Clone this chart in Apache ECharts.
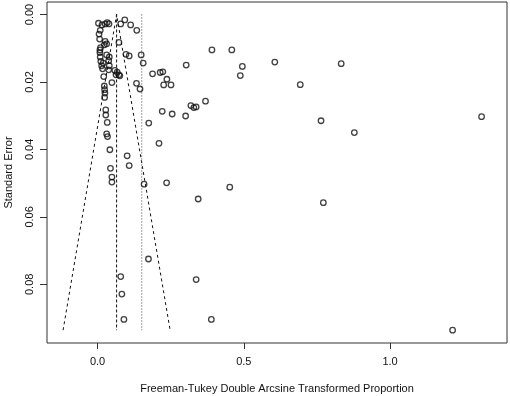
<!DOCTYPE html>
<html>
<head>
<meta charset="utf-8">
<script src="https://cdn.jsdelivr.net/npm/echarts@6/dist/echarts.min.js"></script>
<style>
  html, body { margin: 0; padding: 0; background: #fff; }
  #chart { width: 510px; height: 396px; }
</style>
</head>
<body>
<div id="chart"></div>
<script>
// transformed proportion of each study (x) and its standard error (y)
const studyTP = [
  0.003, 0.015, 0.026, 0.033, 0.039, 0.009, 0.005, 0.007, 0.026, 0.023,
  0.031, 0.010, 0.008, 0.008, 0.031, 0.040, 0.009, 0.011, 0.038, 0.019,
  0.014, 0.040, 0.017, 0.038, 0.059, 0.067, 0.073, 0.076, 0.063, 0.021,
  0.049, 0.023, 0.024, 0.025, 0.024, 0.028, 0.028, 0.033, 0.031, 0.034,
  0.042, 0.044, 0.049, 0.049, 0.073, 0.079, 0.093, 0.113, 0.134, 0.097,
  0.108, 0.149, 0.156, 0.133, 0.145, 0.175, 0.101, 0.108, 0.210, 0.159,
  0.236, 0.188, 0.214, 0.223, 0.237, 0.226, 0.251, 0.221, 0.255, 0.391,
  0.459, 0.303, 0.495, 0.606, 0.833, 0.488, 0.693, 0.369, 0.319, 0.329,
  0.337, 0.301, 0.764, 0.878, 1.313, 0.452, 0.344, 0.772, 0.337, 0.389,
  1.214, 0.174, 0.079, 0.083, 0.090
];
const studySE = [
  0.0026, 0.0031, 0.0028, 0.0024, 0.0028, 0.0047, 0.0058, 0.0073, 0.0080, 0.0090,
  0.0087, 0.0098, 0.0105, 0.0113, 0.0120, 0.0126, 0.0126, 0.0139, 0.0137, 0.0144,
  0.0152, 0.0152, 0.0161, 0.0164, 0.0166, 0.0171, 0.0179, 0.0182, 0.0179, 0.0184,
  0.0202, 0.0212, 0.0223, 0.0233, 0.0246, 0.0283, 0.0298, 0.0320, 0.0354, 0.0362,
  0.0401, 0.0456, 0.0482, 0.0497, 0.0083, 0.0028, 0.0016, 0.0031, 0.0047, 0.0118,
  0.0123, 0.0120, 0.0144, 0.0204, 0.0221, 0.0322, 0.0419, 0.0448, 0.0382, 0.0503,
  0.0499, 0.0176, 0.0172, 0.0170, 0.0192, 0.0209, 0.0209, 0.0287, 0.0295, 0.0105,
  0.0105, 0.0150, 0.0154, 0.0141, 0.0146, 0.0181, 0.0208, 0.0257, 0.0270, 0.0276,
  0.0274, 0.0301, 0.0315, 0.0350, 0.0303, 0.0512, 0.0547, 0.0558, 0.0786, 0.0904,
  0.0936, 0.0725, 0.0777, 0.0829, 0.0904
];

// pooled estimates and funnel limits
const fixedEst = 0.065;
const randomEst = 0.151;
const maxSE = 0.0936;
const funnelX = [-0.118, 0.065, 0.248];
const funnelY = [0.0936, 0, 0.0936];

const xTicks = [0, 0.5, 1.0];
const yTicks = [0, 0.02, 0.04, 0.06, 0.08];

const points = studyTP.map((x, i) => [x, studySE[i]]);
const funnel = funnelX.map((x, i) => [x, funnelY[i]]);

const chart = echarts.init(document.getElementById('chart'));
const font = 'Liberation Sans, Arial, sans-serif';

const option = {
  animation: false,
  grid: {
    left: 47, right: 3, top: 2, bottom: 53,
    containLabel: false,
    outerBoundsMode: 'none',
    show: true, borderColor: '#333', borderWidth: 1, backgroundColor: 'transparent'
  },
  xAxis: {
    type: 'value',
    min: -0.173,
    max: 1.40,
    name: 'Freeman-Tukey Double Arcsine Transformed Proportion',
    nameLocation: 'middle',
    nameGap: 40,
    nameTextStyle: { color: '#111', fontSize: 11, fontFamily: font },
    splitLine: { show: false },
    axisLine: { show: false, onZero: false },
    axisTick: { show: true, length: 6, customValues: xTicks, lineStyle: { color: '#333' } },
    axisLabel: {
      customValues: xTicks, margin: 13, color: '#111', fontSize: 11, fontFamily: font,
      formatter: v => v.toFixed(1)
    }
  },
  yAxis: {
    type: 'value',
    inverse: true,
    min: -0.0037,
    max: 0.0974,
    name: 'Standard Error',
    nameLocation: 'middle',
    nameGap: 33,
    nameTextStyle: { color: '#111', fontSize: 11, fontFamily: font },
    splitLine: { show: false },
    axisLine: { show: false, onZero: false },
    axisTick: { show: true, length: 7, customValues: yTicks, lineStyle: { color: '#333' } },
    axisLabel: {
      customValues: yTicks, rotate: 90, margin: 12, color: '#111', fontSize: 11, fontFamily: font,
      formatter: v => v.toFixed(2)
    }
  },
  series: [
    {
      type: 'line',
      data: funnel,
      symbol: 'none',
      lineStyle: { color: '#111', width: 1, type: [3, 3] },
      silent: true
    },
    {
      type: 'line',
      data: [[fixedEst, 0], [fixedEst, maxSE]],
      symbol: 'none',
      lineStyle: { color: '#111', width: 1, type: [3, 2] },
      silent: true
    },
    {
      type: 'line',
      data: [[randomEst, 0], [randomEst, maxSE]],
      symbol: 'none',
      lineStyle: { color: '#444', width: 1, type: [1, 2] },
      silent: true
    },
    {
      type: 'scatter',
      data: points,
      symbol: 'circle',
      symbolSize: 5.5,
      itemStyle: { color: 'rgba(0,0,0,0)', borderColor: '#111', borderWidth: 1.3 },
      z: 5
    }
  ]
};

chart.setOption(option);
</script>
</body>
</html>
